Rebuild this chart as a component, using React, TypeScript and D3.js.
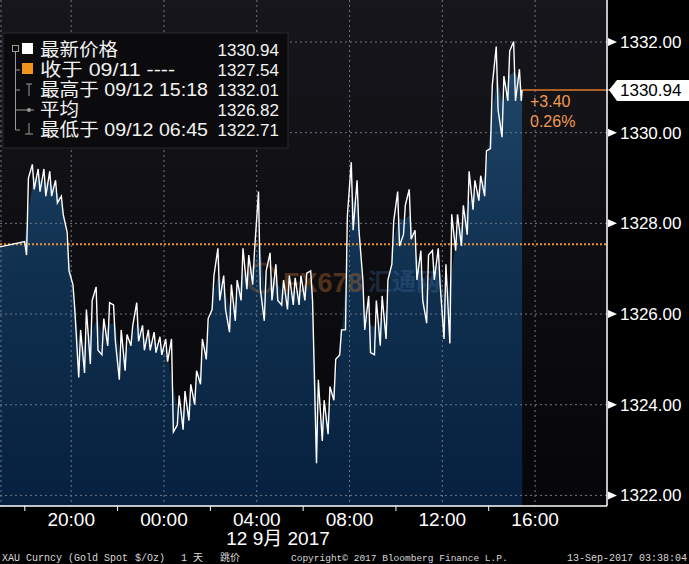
import React from "react";
import * as d3 from "d3";

// ---- data ----
const yTicks = [1322, 1324, 1326, 1328, 1330, 1332];
const yTickLabels = ["1322.00", "1324.00", "1326.00", "1328.00", "1330.00", "1332.00"];
// hours since 2017-09-11 00:00
const timeTickHours = [20, 24, 28, 32, 36, 40];
const timeTickLabels = ["20:00", "00:00", "04:00", "08:00", "12:00", "16:00"];
const minorTickHours = [18, 22, 26, 30, 34, 38];
const domainHours = [16.93, 43.1];
const prevClose = 1327.54;
const lastPrice = 1330.94;
const lastHour = 39.44;
const changeAbs = "+3.40";
const changePct = "0.26%";
// quiet pre-session segment [hour, price]
const preSessionHours = [16.93, 17.99];
const preSessionPrices = [1327.48, 1327.6];
// 15-minute buckets from 18:00 on 11 Sep
const bucketStartHour = 18;
const bucketMinutes = 15;
const highs = [
  1329.0, 1329.3, 1329.2, 1329.2, 1329.15, 1328.95, 1328.6, 1327.8, 1326.65, 1325.65,
  1326.1, 1326.3, 1326.6, 1325.9, 1326.25, 1326.2, 1325.65, 1325.55, 1325.75, 1326.25,
  1325.75, 1325.65, 1325.6, 1325.5, 1325.45, 1325.45, 1324.2, 1324.3, 1324.45, 1324.75,
  1325.45, 1325.9, 1326.85, 1327.45, 1326.85, 1326.65, 1326.75, 1327.45, 1327.3, 1327.4,
  1328.7, 1326.95, 1327.35, 1327.1, 1326.75, 1326.85, 1326.8, 1326.85, 1326.9, 1326.95,
  1324.55, 1324.1, 1324.4, 1325.0, 1325.65, 1328.15, 1329.35, 1328.95, 1326.75, 1326.4,
  1326.3, 1326.4, 1326.75, 1328.05, 1328.7, 1328.4, 1328.75, 1327.85, 1327.4, 1327.3,
  1327.4, 1327.45, 1327.1, 1328.2, 1328.2, 1328.4, 1329.15, 1328.95, 1329.05, 1329.6,
  1331.05, 1331.9, 1331.25, 1331.8, 1332.01, 1331.4,
];
const lows = [
  1327.3, 1328.75, 1328.7, 1328.6, 1328.6, 1328.45, 1328.2, 1326.95, 1326.1, 1324.6,
  1324.7, 1324.9, 1325.2, 1325.1, 1325.3, 1325.4, 1324.55, 1324.75, 1325.3, 1325.4,
  1325.2, 1325.2, 1325.15, 1325.1, 1324.95, 1323.4, 1323.55, 1323.45, 1323.65, 1324.0,
  1324.45, 1325.0, 1326.1, 1326.3, 1326.1, 1325.6, 1325.85, 1326.3, 1326.55, 1326.65,
  1326.55, 1325.85, 1326.3, 1326.3, 1326.2, 1326.1, 1326.2, 1326.2, 1326.3, 1326.3,
  1322.71, 1323.2, 1323.35, 1324.1, 1325.1, 1325.65, 1327.85, 1327.85, 1325.65, 1325.15,
  1325.1, 1325.3, 1325.45, 1327.1, 1327.5, 1327.75, 1327.65, 1326.75, 1326.3, 1325.8,
  1326.75, 1326.65, 1325.45, 1325.35, 1327.4, 1327.5, 1327.75, 1328.3, 1328.5, 1328.6,
  1329.65, 1330.5, 1329.9, 1330.7, 1330.7, 1330.7,
];
const legendLabels = ["最新价格", "收于 09/11 ----", "最高于 09/12 15:18", "平均", "最低于 09/12 06:45"];
const legendLabelWidths = [78, 135, 168, 39, 168];
const legendValues = ["1330.94", "1327.54", "1332.01", "1326.82", "1322.71"];

const W = 689;
const H = 564;
const PR = 607; // plot right
const PB = 506; // plot bottom

export default function App() {
  const x = d3.scaleLinear().domain(domainHours).range([0, PR]);
  const y = d3.scaleLinear().domain([1322, 1332]).range([495.4, 42]);
  const dt = bucketMinutes / 60;

  // zigzag high/low path
  const pts: [number, number][] = [];
  preSessionHours.forEach((h, i) => pts.push([h, preSessionPrices[i]]));
  const mids = highs.map((hv, i) => (hv + lows[i]) / 2);
  highs.forEach((hv, i) => {
    const t0 = bucketStartHour + i * dt;
    const next = i < mids.length - 1 ? mids[i + 1] : lastPrice;
    const up = next >= mids[i];
    const a = up ? lows[i] : hv;
    const b = up ? hv : lows[i];
    pts.push([t0 + 0.3 * dt, a]);
    pts.push([t0 + 0.62 * dt, b]);
  });
  pts.push([lastHour, lastPrice]);

  const areaPts: [number, number][] = [];
  preSessionHours.forEach((h, i) => areaPts.push([h, preSessionPrices[i]]));
  mids.forEach((m, i) => areaPts.push([bucketStartHour + (i + 0.5) * dt, m]));
  areaPts.push([lastHour, lastPrice]);

  const line = d3
    .line<[number, number]>()
    .x((d) => x(d[0]))
    .y((d) => y(d[1]));
  const area = d3
    .area<[number, number]>()
    .x((d) => x(d[0]))
    .y0(PB)
    .y1((d) => y(d[1]));

  const sans = "'Liberation Sans', 'Noto Sans CJK SC', Arial, sans-serif";
  const mono = "'Liberation Mono', 'DejaVu Sans Mono', monospace";
  const lastY = y(lastPrice);
  const lastX = x(lastHour);

  return (
    <svg
      width={W}
      height={H}
      style={{ position: "absolute", left: 0, top: 0, display: "block" }}
      xmlns="http://www.w3.org/2000/svg"
    >
      <defs>
        <linearGradient id="bg" x1="0" y1="0" x2="0" y2="1">
          <stop offset="0" stopColor="#16161c" />
          <stop offset="1" stopColor="#060608" />
        </linearGradient>
        <linearGradient id="fill" gradientUnits="userSpaceOnUse" x1="0" y1="40" x2="0" y2={PB}>
          <stop offset="0" stopColor="#21486b" />
          <stop offset="0.5" stopColor="#10304f" />
          <stop offset="1" stopColor="#07203f" />
        </linearGradient>
      </defs>
      <rect x={0} y={0} width={W} height={H} fill="#000" />
      <rect x={0} y={0} width={PR} height={PB} fill="url(#bg)" />

      {/* area */}
      <path d={area(areaPts) || ""} fill="url(#fill)" />

      {/* watermark */}
      <g opacity={0.5}>
        <circle cx={262} cy={278} r={14} fill="none" stroke="#b86a30" strokeWidth={3} opacity={0.6} />
        <text x={283} y={292} fontFamily={sans} fontWeight="bold" fontSize={27} fill="#b8692a" opacity={0.8}>
          FX678
        </text>
        <text x={368} y={290} fontFamily="'Noto Sans CJK SC', sans-serif" fontWeight="bold" fontSize={24} fill="#4d7fb8" opacity={0.5}>
          汇通网
        </text>
      </g>

      {/* grid */}
      {yTicks.map((v) => (
        <line key={"gy" + v} x1={0} x2={PR} y1={y(v)} y2={y(v)} stroke="#6d7785" strokeWidth={1} strokeDasharray="2,3" />
      ))}
      {timeTickHours.map((h) => (
        <line key={"gx" + h} x1={x(h)} x2={x(h)} y1={0} y2={PB} stroke="#6d7785" strokeWidth={1} strokeDasharray="2,3" />
      ))}
      <line x1={1} x2={1} y1={0} y2={PB} stroke="#6d7785" strokeWidth={1} strokeDasharray="2,3" />

      {/* previous close */}
      <line x1={0} x2={PR} y1={y(prevClose)} y2={y(prevClose)} stroke="#e8923c" strokeWidth={2} strokeDasharray="2,2" />

      {/* price line */}
      <path d={line(pts) || ""} fill="none" stroke="#ffffff" strokeWidth={1.4} strokeLinejoin="miter" />

      {/* last price line + change */}
      <line x1={lastX} x2={611} y1={lastY} y2={lastY} stroke="#e07b2c" strokeWidth={1.5} />
      <text x={530} y={107} fontFamily={sans} fontSize={16} fill="#f09a50">
        {changeAbs}
      </text>
      <text x={530} y={127} fontFamily={sans} fontSize={16} fill="#f09a50">
        {changePct}
      </text>

      {/* axes */}
      <line x1={PR} x2={PR} y1={0} y2={PB} stroke="#ffffff" strokeWidth={1.5} />
      <line x1={0} x2={PR} y1={PB} y2={PB} stroke="#ffffff" strokeWidth={1.5} />
      {yTicks.map((v, i) => (
        <g key={"yt" + v}>
          <path d={`M${PR + 1},${y(v) - 4}L${PR + 10},${y(v)}L${PR + 1},${y(v) + 4}Z`} fill="#fff" />
          <text x={620} y={y(v) + 6} fontFamily={sans} fontSize={17} fill="#fff">
            {yTickLabels[i]}
          </text>
        </g>
      ))}
      {/* last price label */}
      <path
        d={`M${PR + 2},${lastY}L${PR + 10},${lastY - 10}L${W},${lastY - 10}L${W},${lastY + 11}L${PR + 10},${lastY + 11}Z`}
        fill="#ffffff"
      />
      <text x={620} y={lastY + 6} fontFamily={sans} fontSize={17} fill="#000">
        {lastPrice.toFixed(2)}
      </text>

      {minorTickHours.map((h) => (
        <line key={"mt" + h} x1={x(h)} x2={x(h)} y1={PB} y2={PB + 5} stroke="#fff" strokeWidth={1} />
      ))}
      {timeTickHours.map((h, i) => (
        <text key={"tl" + h} x={x(h)} y={526} textAnchor="middle" fontFamily={sans} fontSize={19} fill="#fff">
          {timeTickLabels[i]}
        </text>
      ))}
      <text x={278} y={545} textAnchor="middle" fontFamily={sans} fontSize={19} fill="#fff">
        12 9月 2017
      </text>

      {/* legend */}
      <rect x={3} y={33} width={285} height={115} fill="#0b0b0d" stroke="#2a2a2e" strokeWidth={1} />
      <g stroke="#9a9a9a" strokeWidth={1} fill="none">
        <rect x={12.5} y={45.5} width={6} height={6} />
        <line x1={15.5} x2={15.5} y1={52} y2={130} />
        <line x1={15.5} x2={20} y1={70} y2={70} />
        <line x1={15.5} x2={20} y1={90} y2={90} />
        <line x1={15.5} x2={24} y1={110} y2={110} />
        <line x1={15.5} x2={20} y1={130} y2={130} />
        <line x1={26} x2={32} y1={84} y2={84} />
        <line x1={29} x2={29} y1={84} y2={96} />
        <line x1={24} x2={34} y1={110} y2={110} />
        <line x1={29} x2={29} y1={123} y2={134} />
        <line x1={25} x2={33} y1={134} y2={134} />
      </g>
      <circle cx={29} cy={110} r={2} fill="#9a9a9a" />
      <rect x={22} y={43} width={11} height={11} fill="#ffffff" />
      <rect x={22} y={63} width={11} height={11} fill="#f0961e" />
      {legendLabels.map((l, i) => (
        <g key={"lg" + i}>
          <text
            x={40}
            y={56 + i * 20}
            fontFamily={sans}
            fontSize={18}
            fill="#f2f2f2"
            textLength={legendLabelWidths[i]}
            lengthAdjust="spacingAndGlyphs"
          >
            {l}
          </text>
          <text x={279} y={56 + i * 20} textAnchor="end" fontFamily={sans} fontSize={17} fill="#f2f2f2">
            {legendValues[i]}
          </text>
        </g>
      ))}

      {/* footer */}
      <g fontFamily={mono} fontSize={10} fill="#d8d8d8">
        <text x={2} y={561}>XAU Curncy (Gold Spot</text>
        <text x={135} y={561}>$/Oz)</text>
        <text x={181} y={561}>1</text>
        <text x={193} y={561} fontFamily="'Noto Sans CJK SC', sans-serif">天</text>
        <text x={220} y={561} fontFamily="'Noto Sans CJK SC', sans-serif">跳价</text>
        <text x={291} y={561} fontSize={9.5}>
          Copyright© 2017 Bloomberg Finance L.P.
        </text>
        <text x={687} y={561} textAnchor="end">13-Sep-2017 03:38:04</text>
      </g>
    </svg>
  );
}
